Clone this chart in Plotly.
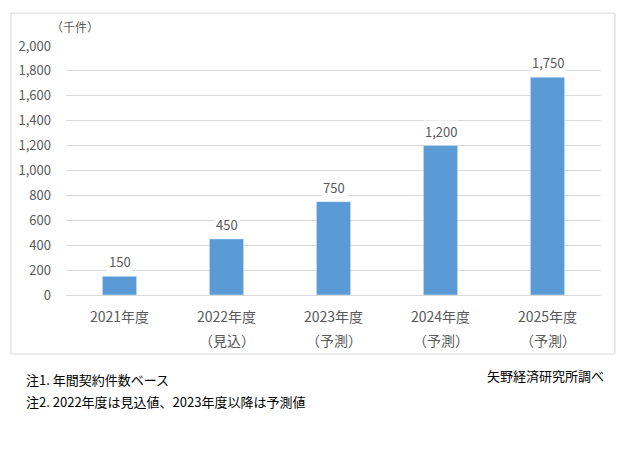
import plotly.graph_objects as go

categories = ["2021年度", "2022年度", "2023年度", "2024年度", "2025年度"]
sublabels = ["", "（見込）", "（予測）", "（予測）", "（予測）"]
values = [150, 450, 750, 1200, 1750]
y_ticks = [0, 200, 400, 600, 800, 1000, 1200, 1400, 1600, 1800, 2000]

FONT = "Noto Sans CJK JP"
GREY = "#595959"

fig = go.Figure()
fig.add_trace(go.Bar(x=categories, y=values, marker_color="#5B9BD5", width=0.32,
                     hoverinfo="skip"))

for c, v in zip(categories, values):
    fig.add_annotation(x=c, y=v, xref="x", yref="y", text=f"{v:,}", showarrow=False,
                       yanchor="bottom", yshift=3, bgcolor="white",
                       font=dict(family=FONT, size=13, color=GREY))
for c, s in zip(categories, sublabels):
    if s:
        fig.add_annotation(x=c, y=-0.18, xref="x", yref="paper", text=s, showarrow=False,
                           yanchor="middle", font=dict(family=FONT, size=14, color=GREY))

fig.add_annotation(x=-0.032, y=1.08, xref="paper", yref="paper", text="（千件）",
                   showarrow=False, xanchor="left", yanchor="middle",
                   font=dict(family=FONT, size=12, color=GREY))

fig.add_shape(type="rect", xref="paper", yref="paper", x0=-0.1028, x1=1.026,
              y0=-0.237, y1=1.132, line=dict(color="#D9D9D9", width=1), layer="below")

fig.add_annotation(x=-0.078, y=-0.34, xref="paper", yref="paper", text="注1. 年間契約件数ベース",
                   showarrow=False, xanchor="left", yanchor="middle",
                   font=dict(family=FONT, size=13, color="black"))
fig.add_annotation(x=-0.078, y=-0.428, xref="paper", yref="paper",
                   text="注2. 2022年度は見込値、2023年度以降は予測値",
                   showarrow=False, xanchor="left", yanchor="middle",
                   font=dict(family=FONT, size=13, color="black"))
fig.add_annotation(x=1.01, y=-0.325, xref="paper", yref="paper", text="矢野経済研究所調べ",
                   showarrow=False, xanchor="right", yanchor="middle",
                   font=dict(family=FONT, size=13, color="black"))

fig.update_layout(
    width=629, height=461, autosize=False,
    margin=dict(l=66, r=28, t=46, b=166),
    paper_bgcolor="white", plot_bgcolor="white",
    showlegend=False,
    font=dict(family=FONT, size=13, color=GREY),
)
fig.update_xaxes(showline=True, linecolor="#D9D9D9", linewidth=1, ticks="",
                 tickfont=dict(family=FONT, size=14, color=GREY), ticklabelstandoff=9)
fig.update_yaxes(range=[0, 2000], tickvals=y_ticks, tickformat=",d", showgrid=True,
                 gridcolor="#D9D9D9", gridwidth=1, zeroline=False, showline=False,
                 ticklabelstandoff=14,
                 tickfont=dict(family=FONT, size=13, color=GREY))

fig.write_html("out.html")
